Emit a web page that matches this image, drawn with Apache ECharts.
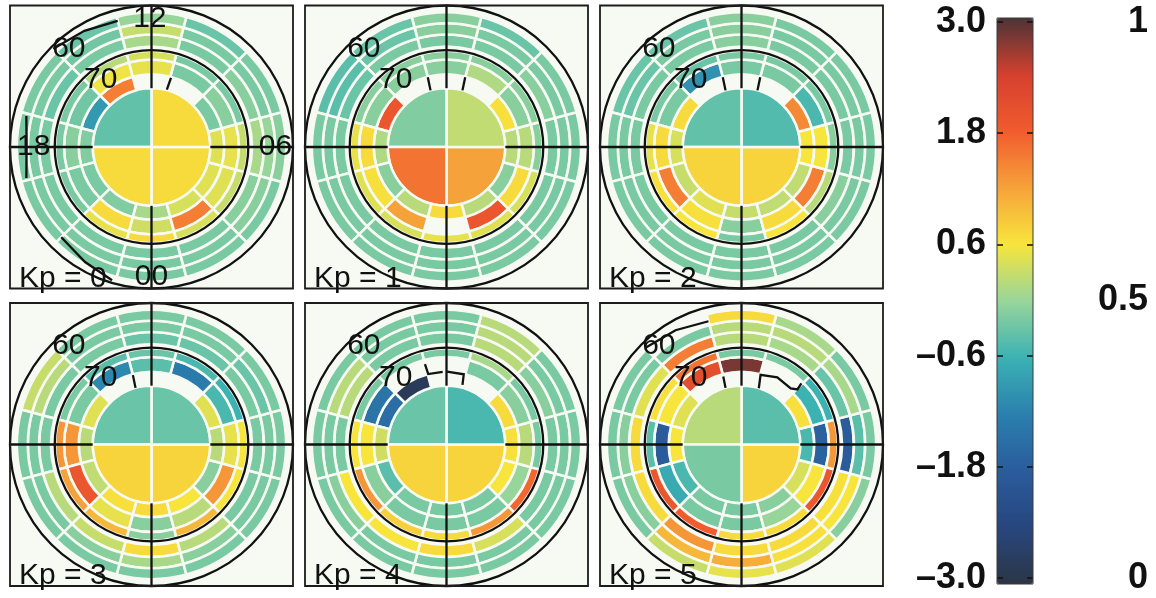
<!DOCTYPE html>
<html>
<head>
<meta charset="utf-8">
<script src="https://cdn.jsdelivr.net/npm/echarts@6/dist/echarts.min.js"></script>
<style>
  html, body { margin: 0; padding: 0; background: #ffffff; }
  #chart { width: 1156px; height: 598px; }
</style>
</head>
<body>
<div id="chart"></div>
<script>
// ---- binning: magnetic latitude (deg) for the polar-cap disc and six rings ----
const latBins = [[90, 78], [78, 75.1], [75.1, 72], [72, 70.1], [69.2, 66.6], [66.6, 64.1], [64.1, 61.6]];
const discMlt = [[0, 6], [6, 12], [12, 18], [18, 24]];          // disc quadrants (MLT h)
const ringMlt = [0, 2, 4, 6, 8, 10, 12, 14, 16, 18, 20, 22];     // ring bin centres, 2 h wide
const gridLats = [70, 60];
const mltNames = ['00', '06', '12', '18'];
const mltTicks = [0, 6, 12, 18];
const barTicks = [-3.0, -1.8, -0.6, 0.6, 1.8, 3.0];
const probTicks = [0, 0.5, 1];
const titles = ['Kp = 0', 'Kp = 1', 'Kp = 2', 'Kp = 3', 'Kp = 4', 'Kp = 5'];

// ---- values: disc in MLT order 00-06, 06-12, 12-18, 18-24; rings inner -> outer ----
const kp0Disc = [0.7, 0.7, -0.35, 0.7];
const kp0Rings = [
  [0.1, 0.4, 0.45, 0.45, -0.2, null, null, 1.5, -0.9, -0.15, -0.2, -0.15],
  [0.35, 1.5, 0.45, 0.5, -0.1, -0.2, 0.5, 0.55, -0.25, -0.1, -0.2, 0.7],
  [0.7, 0.4, 0.3, 0.3, -0.2, -0.2, 0.4, 0.2, -0.2, -0.2, -0.2, 0.5],
  [-0.2, -0.2, -0.1, 0.1, -0.1, -0.2, 0.1, -0.2, -0.3, -0.2, -0.2, -0.2],
  [-0.2, -0.2, -0.1, 0.0, -0.2, -0.2, 0.3, -0.25, -0.2, -0.2, -0.2, -0.2],
  [-0.2, -0.2, -0.2, -0.1, -0.2, -0.3, 0.0, -0.3, -0.2, -0.2, -0.2, -0.2]
];
const kp1Disc = [1.2, 0.25, -0.15, 1.6];
const kp1Rings = [
  [0.7, 0.2, -0.1, 0.2, 0.65, null, null, null, 1.9, 0.15, -0.1, 0.2],
  [null, 1.9, 0.7, 0.2, -0.1, 0.15, -0.1, -0.1, -0.1, 0.7, 0.65, 1.2],
  [0.5, 0.45, 0.4, -0.1, -0.1, -0.1, -0.1, -0.1, -0.1, 0.5, 0.45, 0.4],
  [-0.2, -0.2, -0.2, -0.2, -0.1, -0.2, -0.2, -0.2, -0.3, -0.2, -0.2, -0.2],
  [-0.2, -0.2, -0.2, -0.2, -0.2, -0.2, -0.1, -0.3, -0.4, -0.2, -0.2, -0.2],
  [-0.2, -0.2, -0.2, -0.2, -0.2, -0.3, -0.1, -0.3, -0.4, -0.2, -0.2, -0.2]
];
const kp2Disc = [0.75, -0.45, -0.35, 0.75];
const kp2Rings = [
  [0.3, 0.25, 0.25, 0.6, 1.4, null, null, null, 0.7, 0.4, 0.3, 0.45],
  [-0.1, 0.7, 1.5, 0.6, -0.5, -0.2, -0.2, -1.0, -0.2, 0.7, 1.5, 0.65],
  [-0.2, 0.6, 0.2, -0.1, -0.2, -0.2, -0.2, -0.3, -0.2, 0.5, 0.65, 0.6],
  [-0.2, -0.2, -0.1, -0.2, -0.2, -0.2, -0.1, -0.2, -0.2, -0.2, -0.2, -0.2],
  [-0.2, -0.2, -0.2, -0.2, -0.2, -0.2, -0.1, -0.2, -0.3, -0.2, -0.2, -0.2],
  [-0.2, -0.2, -0.2, -0.2, -0.2, -0.2, -0.1, -0.3, -0.3, -0.2, -0.2, -0.2]
];
const kp3Disc = [0.75, -0.3, -0.3, 0.75];
const kp3Rings = [
  [0.7, 0.6, -0.1, 0.2, 0.45, null, null, null, 0.45, 0.2, 0.25, 0.65],
  [-0.1, 0.2, 1.3, 0.5, -0.5, -1.3, -0.4, -1.1, -0.2, 1.3, 1.9, 0.5],
  [-0.1, 1.0, 0.6, 0.6, -0.6, -0.5, -0.3, -0.4, -0.2, 1.3, 1.2, 1.0],
  [0.7, 0.2, -0.2, -0.2, -0.2, -0.3, -0.3, -0.2, -0.2, -0.2, 0.2, 0.3],
  [0.1, -0.1, -0.2, -0.2, -0.3, -0.2, -0.2, -0.2, 0.2, -0.2, -0.2, -0.1],
  [-0.2, -0.2, -0.2, -0.2, -0.2, -0.2, -0.2, -0.2, 0.3, -0.2, -0.2, -0.2]
];
const kp4Disc = [0.75, -0.5, -0.3, 0.75];
const kp4Rings = [
  [-0.2, -0.2, 0.6, 0.65, 0.7, null, null, -2.8, -1.5, 0.35, -0.4, -0.2],
  [-0.2, -0.2, 0.0, 0.2, -0.1, -0.2, null, null, -1.4, 0.6, -0.1, -0.2],
  [0.7, 1.3, 1.7, -0.2, -0.2, 0.1, -0.2, -0.2, -0.2, 0.6, 1.3, 0.8],
  [0.7, 0.4, -0.2, -0.2, -0.1, 0.2, -0.2, -0.2, 0.2, -0.2, 0.6, 0.6],
  [-0.2, -0.2, -0.2, -0.2, -0.2, 0.2, -0.2, -0.2, 0.2, -0.2, -0.1, -0.2],
  [-0.2, -0.2, -0.2, -0.2, -0.2, 0.2, -0.2, -0.2, -0.2, -0.2, -0.2, -0.2]
];
const kp5Disc = [0.75, -0.4, 0.2, -0.2];
const kp5Rings = [
  [-0.2, -0.1, 0.4, -0.5, 0.65, null, null, null, 0.45, 0.6, -0.5, -0.2],
  [-0.2, 0.0, 0.6, -1.7, -0.6, null, 2.8, 2.1, 0.6, -1.8, -0.7, -0.2],
  [0.7, 0.7, 1.9, 1.3, -0.6, -0.2, -0.2, 1.6, 0.65, -0.4, 1.9, 1.8],
  [0.7, 0.7, 0.65, -1.8, -0.3, 0.1, 0.2, 1.5, 0.45, 0.7, 0.7, 1.3],
  [1.1, 0.65, 0.6, -0.4, 0.1, 0.2, 0.2, -0.2, -0.2, -0.1, -0.1, 1.0],
  [0.5, 0.45, -0.1, -0.2, -0.2, 0.1, 0.7, null, -0.2, -0.2, -0.2, 0.3]
];

// ---- boundary traces, each a list of [latitude, MLT] points ----
const kp0Marks = [
  [[77.9, 11.0], [75.3, 10.95]],
  [[62.5, 13.0], [61.7, 14.0], [60.6, 15.0]],
  [[62.9, 17.07], [63.8, 18.0], [62.9, 18.93]],
  [[63.2, 21.0], [62.0, 22.0], [60.6, 22.9]]
];
const kp1Marks = [[[78.0, 13.05], [75.2, 13.0]], [[78.0, 10.95], [75.2, 11.0]]];
const kp2Marks = [[[78.0, 13.05], [75.2, 13.0]], [[78.0, 10.95], [75.2, 11.0]]];
const kp3Marks = [[[78.0, 13.05], [75.3, 13.0]]];
const kp4Marks = [
  [[72.9, 13.0], [75.1, 12.97], [75.1, 12.2]],
  [[75.1, 11.97], [75.2, 11.08], [77.4, 11.0]]
];
const kp5Marks = [
  [[78.0, 13.05], [75.6, 13.0]],
  [[78.0, 10.86], [75.2, 10.98], [74.4, 10.13], [74.7, 9.25], [73.9, 8.97], [72.4, 9.04]],
  [[63.2, 13.0], [62.2, 14.0], [61.2, 15.0]]
];

const panels = [
  { disc: kp0Disc, rings: kp0Rings, marks: kp0Marks },
  { disc: kp1Disc, rings: kp1Rings, marks: kp1Marks },
  { disc: kp2Disc, rings: kp2Rings, marks: kp2Marks },
  { disc: kp3Disc, rings: kp3Rings, marks: kp3Marks },
  { disc: kp4Disc, rings: kp4Rings, marks: kp4Marks },
  { disc: kp5Disc, rings: kp5Rings, marks: kp5Marks }
];

const FONT = '"Liberation Sans", Arial, Helvetica, sans-serif';
const INK = '#111111';
const PAPER = '#f7faf3';
const centers = [[151.5, 147], [446.5, 147], [741.5, 147], [151.5, 444.5], [446.5, 444.5], [741.5, 444.5]];

// polar projection: radial value is cos(latitude)
const rho = lat => Math.cos(lat * Math.PI / 180);

function cellRecords(disc, rings) {
  const out = [];
  disc.forEach((v, i) => {
    if (v != null) out.push([latBins[0][0], latBins[0][1], discMlt[i][0], discMlt[i][1], v]);
  });
  rings.forEach((row, j) => row.forEach((v, i) => {
    if (v == null) return;
    const c = ringMlt[i];
    out.push([latBins[j + 1][0], latBins[j + 1][1], (c - 1 + 24) % 24, c + 1, v]);
  }));
  return out;
}

function polarHelpers(params, api) {
  const cs = params.coordSys;
  const cx = cs.cx, cy = cs.cy;
  const pt = (lat, m) => api.coord([rho(lat), m]);
  const rad = lat => { const p = pt(lat, 12); return Math.hypot(p[0] - cx, p[1] - cy); };
  const ang = m => { const p = pt(60, m); return Math.atan2(p[1] - cy, p[0] - cx); };
  return { cx, cy, pt, rad, ang };
}

function cellItem(params, api) {
  const h = polarHelpers(params, api);
  const latIn = api.value(0), latOut = api.value(1), m0 = api.value(2), m1 = api.value(3);
  const r0 = latIn >= 90 ? 0 : h.rad(latIn);
  const r = h.rad(latOut);
  const a0 = h.ang(m1);
  let a1 = h.ang(m0);
  while (a1 <= a0) a1 += 2 * Math.PI;
  return {
    type: 'sector',
    shape: { cx: h.cx, cy: h.cy, r0: r0, r: r, startAngle: a0, endAngle: a1, clockwise: true },
    style: { fill: api.visual('color'), stroke: PAPER, lineWidth: 2.6 }
  };
}

function backgroundItem(params, api) {
  const h = polarHelpers(params, api);
  const R = h.rad(60);
  return {
    type: 'rect',
    shape: { x: h.cx - R, y: h.cy - R, width: 2 * R, height: 2 * R },
    style: { fill: PAPER }
  };
}

function label(text, x, y, size, align, vAlign) {
  return {
    type: 'text', x: x, y: y,
    style: { text: text, fill: INK, fontSize: size, fontFamily: FONT, align: align || 'center', verticalAlign: vAlign || 'middle' }
  };
}

function overlayItem(k) {
  return function (params, api) {
    const h = polarHelpers(params, api);
    const R = h.rad(60);
    const kids = [];
    gridLats.forEach(lat => kids.push({
      type: 'circle', shape: { cx: h.cx, cy: h.cy, r: h.rad(lat) },
      style: { fill: 'none', stroke: INK, lineWidth: 2.3 }
    }));
    mltTicks.forEach(m => {
      const a = h.pt(latBins[0][1], m), b = h.pt(60, m);
      kids.push({ type: 'line', shape: { x1: a[0], y1: a[1], x2: b[0], y2: b[1] }, style: { stroke: INK, lineWidth: 2.3 } });
    });
    panels[k].marks.forEach(line => kids.push({
      type: 'polyline', shape: { points: line.map(q => h.pt(q[0], q[1])) },
      style: { fill: 'none', stroke: INK, lineWidth: 2.3 }
    }));
    kids.push({ type: 'rect', shape: { x: h.cx - R, y: h.cy - R, width: 2 * R, height: 2 * R },
      style: { fill: 'none', stroke: '#1c1c1c', lineWidth: 1.8 } });
    const p60 = h.pt(63.0, 14.67), p70 = h.pt(72.7, 14.47);
    kids.push(label('60', p60[0], p60[1], 30));
    kids.push(label('70', p70[0], p70[1], 30));
    if (k === 0) {
      const spots = [[62.8, 0], [64.0, 6], [63.0, 12.05], [65.4, 18]];
      mltTicks.forEach((m, i) => {
        const p = h.pt(spots[i][0], spots[i][1]);
        kids.push(label(mltNames[i], p[0], p[1], 30));
      });
    }
    kids.push(label(titles[k], h.cx - R + 9, h.cy + R + 5, 30, 'left', 'bottom'));
    return { type: 'group', children: kids };
  };
}

const series = [];
panels.forEach((p, k) => {
  series.push({ type: 'custom', coordinateSystem: 'polar', polarIndex: k, z: 1, silent: true,
    data: [[0, 0]], renderItem: backgroundItem });
  series.push({ type: 'custom', coordinateSystem: 'polar', polarIndex: k, z: 2, silent: true,
    data: cellRecords(p.disc, p.rings), renderItem: cellItem });
  series.push({ type: 'custom', coordinateSystem: 'polar', polarIndex: k, z: 3, silent: true,
    data: [[0, 0]], renderItem: overlayItem(k) });
});

const barStep = barTicks[1] - barTicks[0];
const fmtBar = v => (v < -1e-9 ? '\u2013' : '') + Math.abs(v).toFixed(1);

const option = {
  animation: false,
  backgroundColor: '#ffffff',
  polar: centers.map(c => ({ center: c, radius: 141.5 })),
  angleAxis: centers.map((c, k) => ({ polarIndex: k, type: 'value', min: 0, max: 24, startAngle: 270, clockwise: false, show: false })),
  radiusAxis: centers.map((c, k) => ({ polarIndex: k, type: 'value', min: 0, max: rho(60), show: false })),
  visualMap: {
    type: 'continuous', min: barTicks[0], max: barTicks[barTicks.length - 1],
    dimension: 4, seriesIndex: [1, 4, 7, 10, 13, 16],
    left: 997, top: 18, itemWidth: 36, itemHeight: 566, padding: 0,
    calculable: false, text: null, showLabel: false,
    inRange: { color: ['#2b3646', '#28467e', '#2a5c9c', '#2a80ae', '#3cb2b3', '#98d59a',
                       '#f7e53c', '#f6a23a', '#f15b2e', '#d4402e', '#4c3436'] }
  },
  grid: [{ left: 997, top: 22, width: 36, height: 556, show: false }],
  xAxis: [{ gridIndex: 0, type: 'value', min: 0, max: 1, show: false }],
  yAxis: [
    { gridIndex: 0, type: 'value', position: 'left', z: 10,
      min: barTicks[0], max: barTicks[barTicks.length - 1], interval: barStep,
      axisLine: { show: false }, splitLine: { show: false },
      axisTick: { show: true, inside: true, length: 6, lineStyle: { color: INK, width: 1.5 } },
      axisLabel: { formatter: fmtBar, color: INK, fontSize: 36, fontFamily: FONT, fontWeight: 'bold', margin: 11 } },
    { gridIndex: 0, type: 'value', position: 'right', z: 10,
      min: barTicks[0], max: barTicks[barTicks.length - 1], interval: barStep,
      axisLine: { show: false }, splitLine: { show: false },
      axisTick: { show: true, inside: true, length: 6, lineStyle: { color: INK, width: 1.5 } },
      axisLabel: { show: false } },
    { gridIndex: 0, type: 'value', position: 'right', z: 10,
      min: probTicks[0], max: probTicks[probTicks.length - 1], interval: probTicks[1] - probTicks[0],
      axisLine: { show: false }, splitLine: { show: false }, axisTick: { show: false },
      axisLabel: { formatter: v => String(+v.toFixed(1)), color: INK, fontSize: 36, fontFamily: FONT,
                   fontWeight: 'bold', align: 'right', margin: 115 } }
  ],
  graphic: [{
    type: 'rect', z: 20, silent: true,
    shape: { x: 997, y: 18, width: 36, height: 566 },
    style: { fill: 'none', stroke: '#3a3a3a', lineWidth: 1 }
  }],
  series: series
};

const chart = echarts.init(document.getElementById('chart'), null, { renderer: 'canvas' });
chart.setOption(option);
</script>
</body>
</html>
